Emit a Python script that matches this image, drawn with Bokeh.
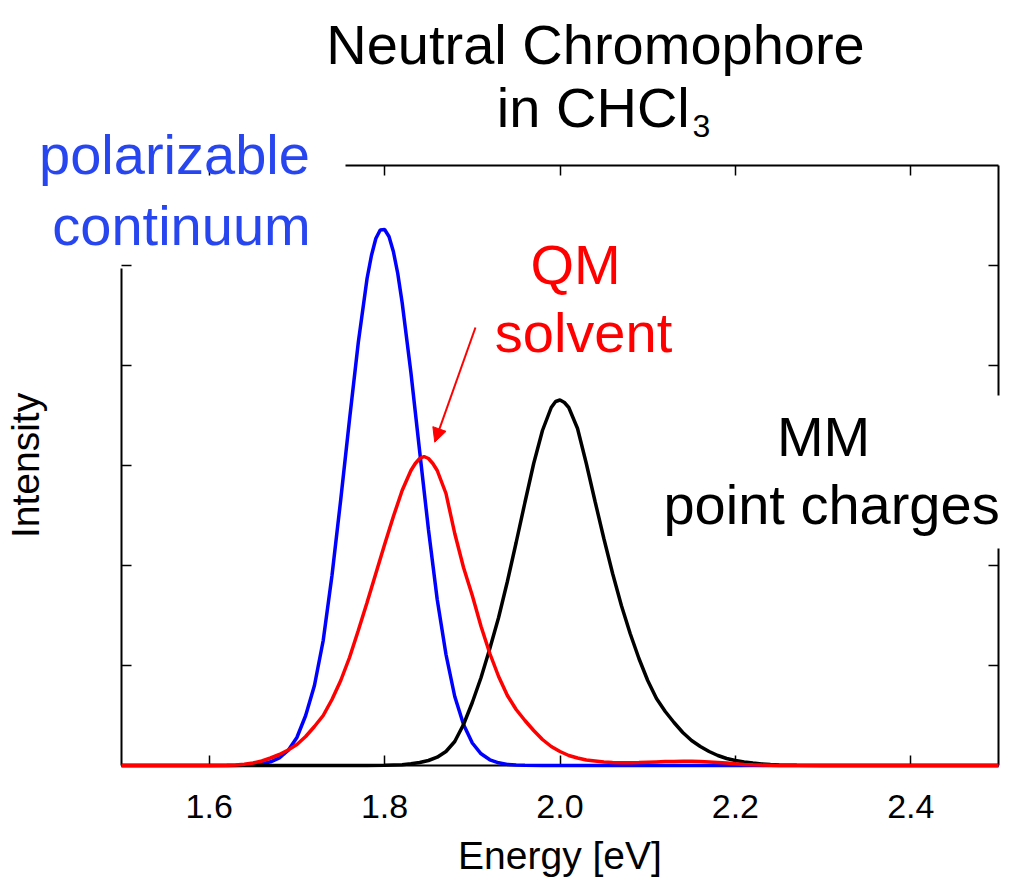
from bokeh.plotting import figure
from bokeh.layouts import column
from bokeh.models import (Label, LinearAxis, FixedTicker, PrintfTickFormatter,
                          Arrow, NormalHead, BoxAnnotation, Range1d,
                          CustomJSTickFormatter)
from bokeh.embed import file_html
from bokeh.resources import INLINE

# ---------------- data ----------------
blue_E = [1.50, 1.62, 1.64, 1.65, 1.66, 1.67, 1.68, 1.69, 1.70, 1.71, 1.72, 1.73,
          1.74, 1.75, 1.76, 1.77, 1.78, 1.785, 1.79, 1.795, 1.80, 1.805, 1.81, 1.815,
          1.82, 1.83, 1.84, 1.85, 1.86, 1.87, 1.88, 1.89, 1.90, 1.91, 1.92, 1.93,
          1.94, 1.95, 1.96, 1.98, 2.50]
blue_I = [0.0, 0.0, 0.003, 0.007, 0.016, 0.037, 0.077, 0.15, 0.28, 0.50, 0.80, 1.25,
          1.90, 2.66, 3.46, 4.23, 4.87, 5.10, 5.27, 5.355, 5.36, 5.29, 5.14, 4.92,
          4.63, 3.93, 3.14, 2.36, 1.66, 1.11, 0.69, 0.41, 0.225, 0.117, 0.057, 0.027,
          0.011, 0.004, 0.002, 0.0, 0.0]

red_E = [1.50, 1.60, 1.62, 1.63, 1.64, 1.65, 1.66, 1.67, 1.68, 1.69, 1.70, 1.71,
         1.72, 1.73, 1.74, 1.75, 1.76, 1.77, 1.78, 1.79, 1.80, 1.81, 1.82, 1.83,
         1.835, 1.84, 1.845, 1.85, 1.855, 1.86, 1.87, 1.88, 1.89, 1.90, 1.91, 1.92,
         1.93, 1.94, 1.95, 1.96, 1.97, 1.98, 1.99, 2.00, 2.01, 2.02, 2.03, 2.04,
         2.05, 2.06, 2.07, 2.08, 2.09, 2.10, 2.11, 2.12, 2.13, 2.14, 2.15, 2.16,
         2.17, 2.18, 2.19, 2.20, 2.21, 2.22, 2.23, 2.25, 2.30, 2.50]
red_I = [0.0, 0.0, 0.003, 0.006, 0.012, 0.025, 0.045, 0.075, 0.11, 0.155, 0.21, 0.29,
         0.39, 0.50, 0.66, 0.85, 1.08, 1.35, 1.63, 1.92, 2.21, 2.49, 2.75, 2.95,
         3.02, 3.07, 3.09, 3.07, 3.02, 2.95, 2.72, 2.32, 1.98, 1.70, 1.39, 1.12,
         0.89, 0.70, 0.56, 0.45, 0.35, 0.26, 0.19, 0.14, 0.10, 0.075, 0.055, 0.045,
         0.035, 0.030, 0.028, 0.028, 0.030, 0.033, 0.036, 0.039, 0.041, 0.042, 0.042, 0.040,
         0.036, 0.030, 0.024, 0.017, 0.011, 0.007, 0.004, 0.001, 0.0, 0.0]

black_E = [1.50, 1.78, 1.80, 1.82, 1.83, 1.84, 1.85, 1.86, 1.87, 1.88, 1.89, 1.90,
           1.91, 1.92, 1.93, 1.94, 1.95, 1.96, 1.97, 1.98, 1.99, 1.995, 2.00, 2.005,
           2.01, 2.02, 2.03, 2.04, 2.05, 2.06, 2.07, 2.08, 2.09, 2.10, 2.11, 2.12,
           2.13, 2.14, 2.15, 2.16, 2.17, 2.18, 2.19, 2.20, 2.21, 2.22, 2.23, 2.24,
           2.25, 2.27, 2.30, 2.50]
black_I = [0.0, 0.0, 0.002, 0.008, 0.017, 0.03, 0.05, 0.083, 0.14, 0.24, 0.41, 0.63,
           0.88, 1.17, 1.48, 1.84, 2.23, 2.63, 3.02, 3.35, 3.58, 3.64, 3.655, 3.63,
           3.58, 3.37, 3.02, 2.64, 2.27, 1.92, 1.60, 1.32, 1.07, 0.85, 0.67, 0.54,
           0.43, 0.33, 0.25, 0.19, 0.14, 0.10, 0.07, 0.05, 0.035, 0.024, 0.016, 0.01,
           0.006, 0.002, 0.0, 0.0]

x_ticks = [1.6, 1.8, 2.0, 2.2, 2.4]
y_ticks = [1, 2, 3, 4, 5]

title_line1 = "Neutral Chromophore"
title_line2 = "in CHCl"
title_sub = "3"
blue_label = ["polarizable", "continuum"]
red_label = ["QM", "solvent"]
black_label = ["MM", "point charges"]
x_label = "Energy [eV]"
y_label = "Intensity"

FONT = "Liberation Sans"
BLUE_TXT = "#2846F0"

W, H = 1012, 887
BL, BR, BT, BB = 121, 14, 165, 122          # borders around the plot frame
X0, X1, Y0, Y1 = 1.5, 2.5, 0.0, 6.0
FW, FH = W - BL - BR, H - BT - BB          # frame size in px

# ---------------- main figure ----------------
p = figure(width=W, height=H, output_backend="svg", toolbar_location=None,
           x_range=Range1d(X0, X1), y_range=Range1d(Y0, Y1),
           min_border_left=BL, min_border_right=BR, min_border_top=BT,
           min_border_bottom=BB)
p.outline_line_color = None
p.grid.visible = False
p.background_fill_color = "white"
p.border_fill_color = "white"

for xs, ys, col in ((blue_E, blue_I, "#0000FF"), (black_E, black_I, "black"),
                    (red_E, red_I, "#FF0000")):
    r = p.line(xs, ys, line_color=col, line_width=3.5)
    r.level = "overlay"

xt = FixedTicker(ticks=x_ticks)
yt = FixedTicker(ticks=y_ticks)
blank = CustomJSTickFormatter(code="return ''")


def style(ax):
    ax.major_tick_in = 10
    ax.major_tick_out = 0
    ax.minor_tick_in = 0
    ax.minor_tick_out = 0
    ax.axis_line_width = 2
    ax.axis_line_color = "black"
    ax.major_tick_line_width = 1.5
    ax.major_tick_line_color = "black"


bottom = p.xaxis[0]
bottom.ticker = xt
bottom.formatter = PrintfTickFormatter(format="%.1f")
style(bottom)
bottom.major_label_text_font = FONT
bottom.major_label_text_font_size = "34px"
bottom.major_label_text_color = "black"
bottom.major_label_standoff = 29
bottom.axis_label = x_label
bottom.axis_label_text_font = FONT
bottom.axis_label_text_font_size = "39px"
bottom.axis_label_text_font_style = "normal"
bottom.axis_label_text_color = "black"
bottom.axis_label_standoff = 13

left = p.yaxis[0]
left.ticker = yt
left.formatter = blank
style(left)
left.bounds = (0, 4.97)
left.major_label_standoff = 0
left.axis_label = y_label
left.axis_label_text_font = FONT
left.axis_label_text_font_size = "39px"
left.axis_label_text_font_style = "normal"
left.axis_label_text_color = "black"
left.axis_label_standoff = 75

top = LinearAxis(ticker=xt, bounds=(1.755, 2.5), formatter=blank)
style(top)
top.major_label_standoff = 0
p.add_layout(top, "above")

right = LinearAxis(ticker=yt, formatter=blank)
style(right)
right.major_label_standoff = 0
p.add_layout(right, "right")

# ---------------- transparent overlay for the free texts ----------------
# same data->pixel mapping as the main frame, but spanning the whole canvas
ox0 = X0 - BL / FW * (X1 - X0)
ox1 = X1 + BR / FW * (X1 - X0)
oy0 = Y0 - BB / FH * (Y1 - Y0)
oy1 = Y1 + BT / FH * (Y1 - Y0)
q = figure(width=W, height=H, output_backend="svg", toolbar_location=None,
           x_range=Range1d(ox0, ox1), y_range=Range1d(oy0, oy1),
           x_axis_location=None, y_axis_location=None, min_border=0)
q.grid.visible = False
q.outline_line_color = None
q.background_fill_color = None
q.border_fill_color = None
q.styles = {"position": "absolute", "left": "0px", "top": "0px"}
for fig in (p, q):
    if "frame_align" in fig.properties():
        fig.frame_align = False

# white box behind the "MM point charges" text (interrupts the right frame)
q.add_layout(BoxAnnotation(left=2.45, right=2.6, bottom=2.17, top=3.70,
                           fill_color="white", fill_alpha=1.0, line_color=None))


def lab(x, y, text, size, color, align="center"):
    # baseline correction: the rendered alphabetic baseline sits ~0.375 em low
    px = float(size.rstrip("px"))
    q.add_layout(Label(x=x, y=y + 0.375 * px / 100.0, text=text, text_font=FONT,
                       text_font_size=size, text_color=color, text_align=align,
                       text_baseline="alphabetic"))


lab(2.0405, 7.00, title_line1, "56px", "black")
lab(1.928, 6.37, title_line2, "56px", "black", "left")
lab(2.151, 6.28, title_sub, "32px", "black", "left")

lab(1.5604, 5.90, blue_label[0], "56px", BLUE_TXT)
lab(1.5684, 5.19, blue_label[1], "56px", BLUE_TXT)

lab(2.0177, 4.80, red_label[0], "56px", "#FF0000")
lab(2.0268, 4.12, red_label[1], "56px", "#FF0000")

lab(2.3005, 3.08, black_label[0], "56px", "black")
lab(2.3096, 2.40, black_label[1], "56px", "black")

q.add_layout(Arrow(end=NormalHead(size=14, fill_color="#FF0000", line_color="#FF0000"),
                   x_start=1.9036, y_start=4.38, x_end=1.8572, y_end=3.233,
                   line_color="#FF0000", line_width=2))

root = column(p, q)
open("out.html", "w").write(file_html(root, INLINE))
